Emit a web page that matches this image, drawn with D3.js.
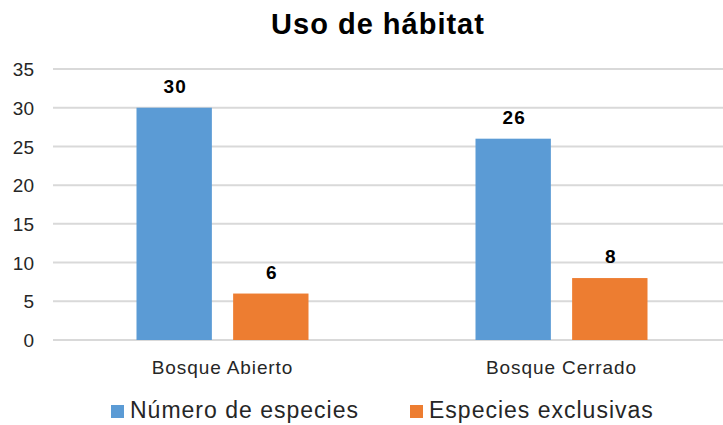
<!DOCTYPE html>
<html>
<head>
<meta charset="utf-8">
<script src="https://cdn.jsdelivr.net/npm/d3@7"></script>
<style>
  html, body { margin: 0; padding: 0; background: #fff; }
  svg { display: block; font-family: "Liberation Sans", Arial, sans-serif; }
</style>
</head>
<body>
<svg id="chart" width="723" height="425"></svg>
<script>
// Chart data
const categories = ["Bosque Abierto", "Bosque Cerrado"];
const seriesNames = ["Número de especies", "Especies exclusivas"];
const numeroEspecies = [30, 26];
const especiesExclusivas = [6, 8];
const yTicks = [0, 5, 10, 15, 20, 25, 30, 35];
const colors = ["#5B9BD5", "#ED7D31"];

const seriesValues = [numeroEspecies, especiesExclusivas];
const rows = categories.map((c, i) => ({
  category: c,
  values: seriesNames.map((s, j) => ({ series: s, value: seriesValues[j][i], idx: j }))
}));

const svg = d3.select("#chart");
const W = 723, H = 425;
const plot = { left: 53, right: 731, top: 69, bottom: 340 };

const y = d3.scaleLinear().domain([0, 35]).range([plot.bottom, plot.top]);
const x0 = d3.scaleBand().domain(categories).range([plot.left, plot.right]).paddingInner(0).paddingOuter(0);
const groupW = 172;
const x1 = d3.scaleBand().domain(seriesNames).range([0, groupW]).paddingInner(0.22).paddingOuter(0);

// Title
svg.append("text")
  .attr("x", 378).attr("y", 34)
  .attr("text-anchor", "middle")
  .attr("font-size", 29).attr("font-weight", "bold").attr("fill", "#000")
  .attr("letter-spacing", 1)
  .text("Uso de hábitat");

// Gridlines
svg.append("g").selectAll("line").data(yTicks).join("line")
  .attr("x1", plot.left).attr("x2", W)
  .attr("y1", d => y(d)).attr("y2", d => y(d))
  .attr("stroke", "#d9d9d9").attr("stroke-width", 2);

// Y axis labels
const yAxis = d3.axisLeft(y).tickValues(yTicks).tickSize(0).tickPadding(0);
const gy = svg.append("g").attr("transform", `translate(34,0)`).call(yAxis);
gy.select(".domain").remove();
gy.selectAll("text").attr("font-size", 19).attr("fill", "#262626")
  .attr("font-family", "Liberation Sans, Arial, sans-serif").attr("dy", "0.35em");

// Bars
const groups = svg.append("g").selectAll("g").data(rows).join("g")
  .attr("transform", d => `translate(${x0(d.category) + (x0.bandwidth() - groupW) / 2},0)`);

groups.selectAll("rect").data(d => d.values).join("rect")
  .attr("x", d => x1(d.series))
  .attr("width", x1.bandwidth())
  .attr("y", d => y(d.value))
  .attr("height", d => y(0) - y(d.value))
  .attr("fill", d => colors[d.idx]);

// Value labels
groups.selectAll("text.val").data(d => d.values).join("text")
  .attr("class", "val")
  .attr("x", d => x1(d.series) + x1.bandwidth() / 2 + 1)
  .attr("y", d => y(d.value) - 15)
  .attr("text-anchor", "middle")
  .attr("font-size", 19).attr("font-weight", "bold").attr("fill", "#000")
  .attr("letter-spacing", 1)
  .text(d => d.value);

// Category labels
const xAxis = d3.axisBottom(x0).tickSize(0).tickPadding(0);
const gx = svg.append("g").attr("transform", `translate(0,${plot.bottom})`).call(xAxis);
gx.select(".domain").remove();
gx.selectAll("text").attr("font-size", 19).attr("fill", "#262626")
  .attr("font-family", "Liberation Sans, Arial, sans-serif")
  .attr("letter-spacing", 0.9)
  .attr("dy", 0).attr("y", 34);

// Legend
const legendItems = [
  { name: seriesNames[0], color: colors[0], x: 111 },
  { name: seriesNames[1], color: colors[1], x: 410 }
];
const lg = svg.append("g").selectAll("g").data(legendItems).join("g")
  .attr("transform", d => `translate(${d.x},0)`);
lg.append("rect").attr("x", 0).attr("y", 405).attr("width", 13).attr("height", 13)
  .attr("fill", d => d.color);
lg.append("text").attr("x", 19).attr("y", 418)
  .attr("font-size", 23).attr("fill", "#262626")
  .attr("letter-spacing", 1)
  .text(d => d.name);
</script>
</body>
</html>
